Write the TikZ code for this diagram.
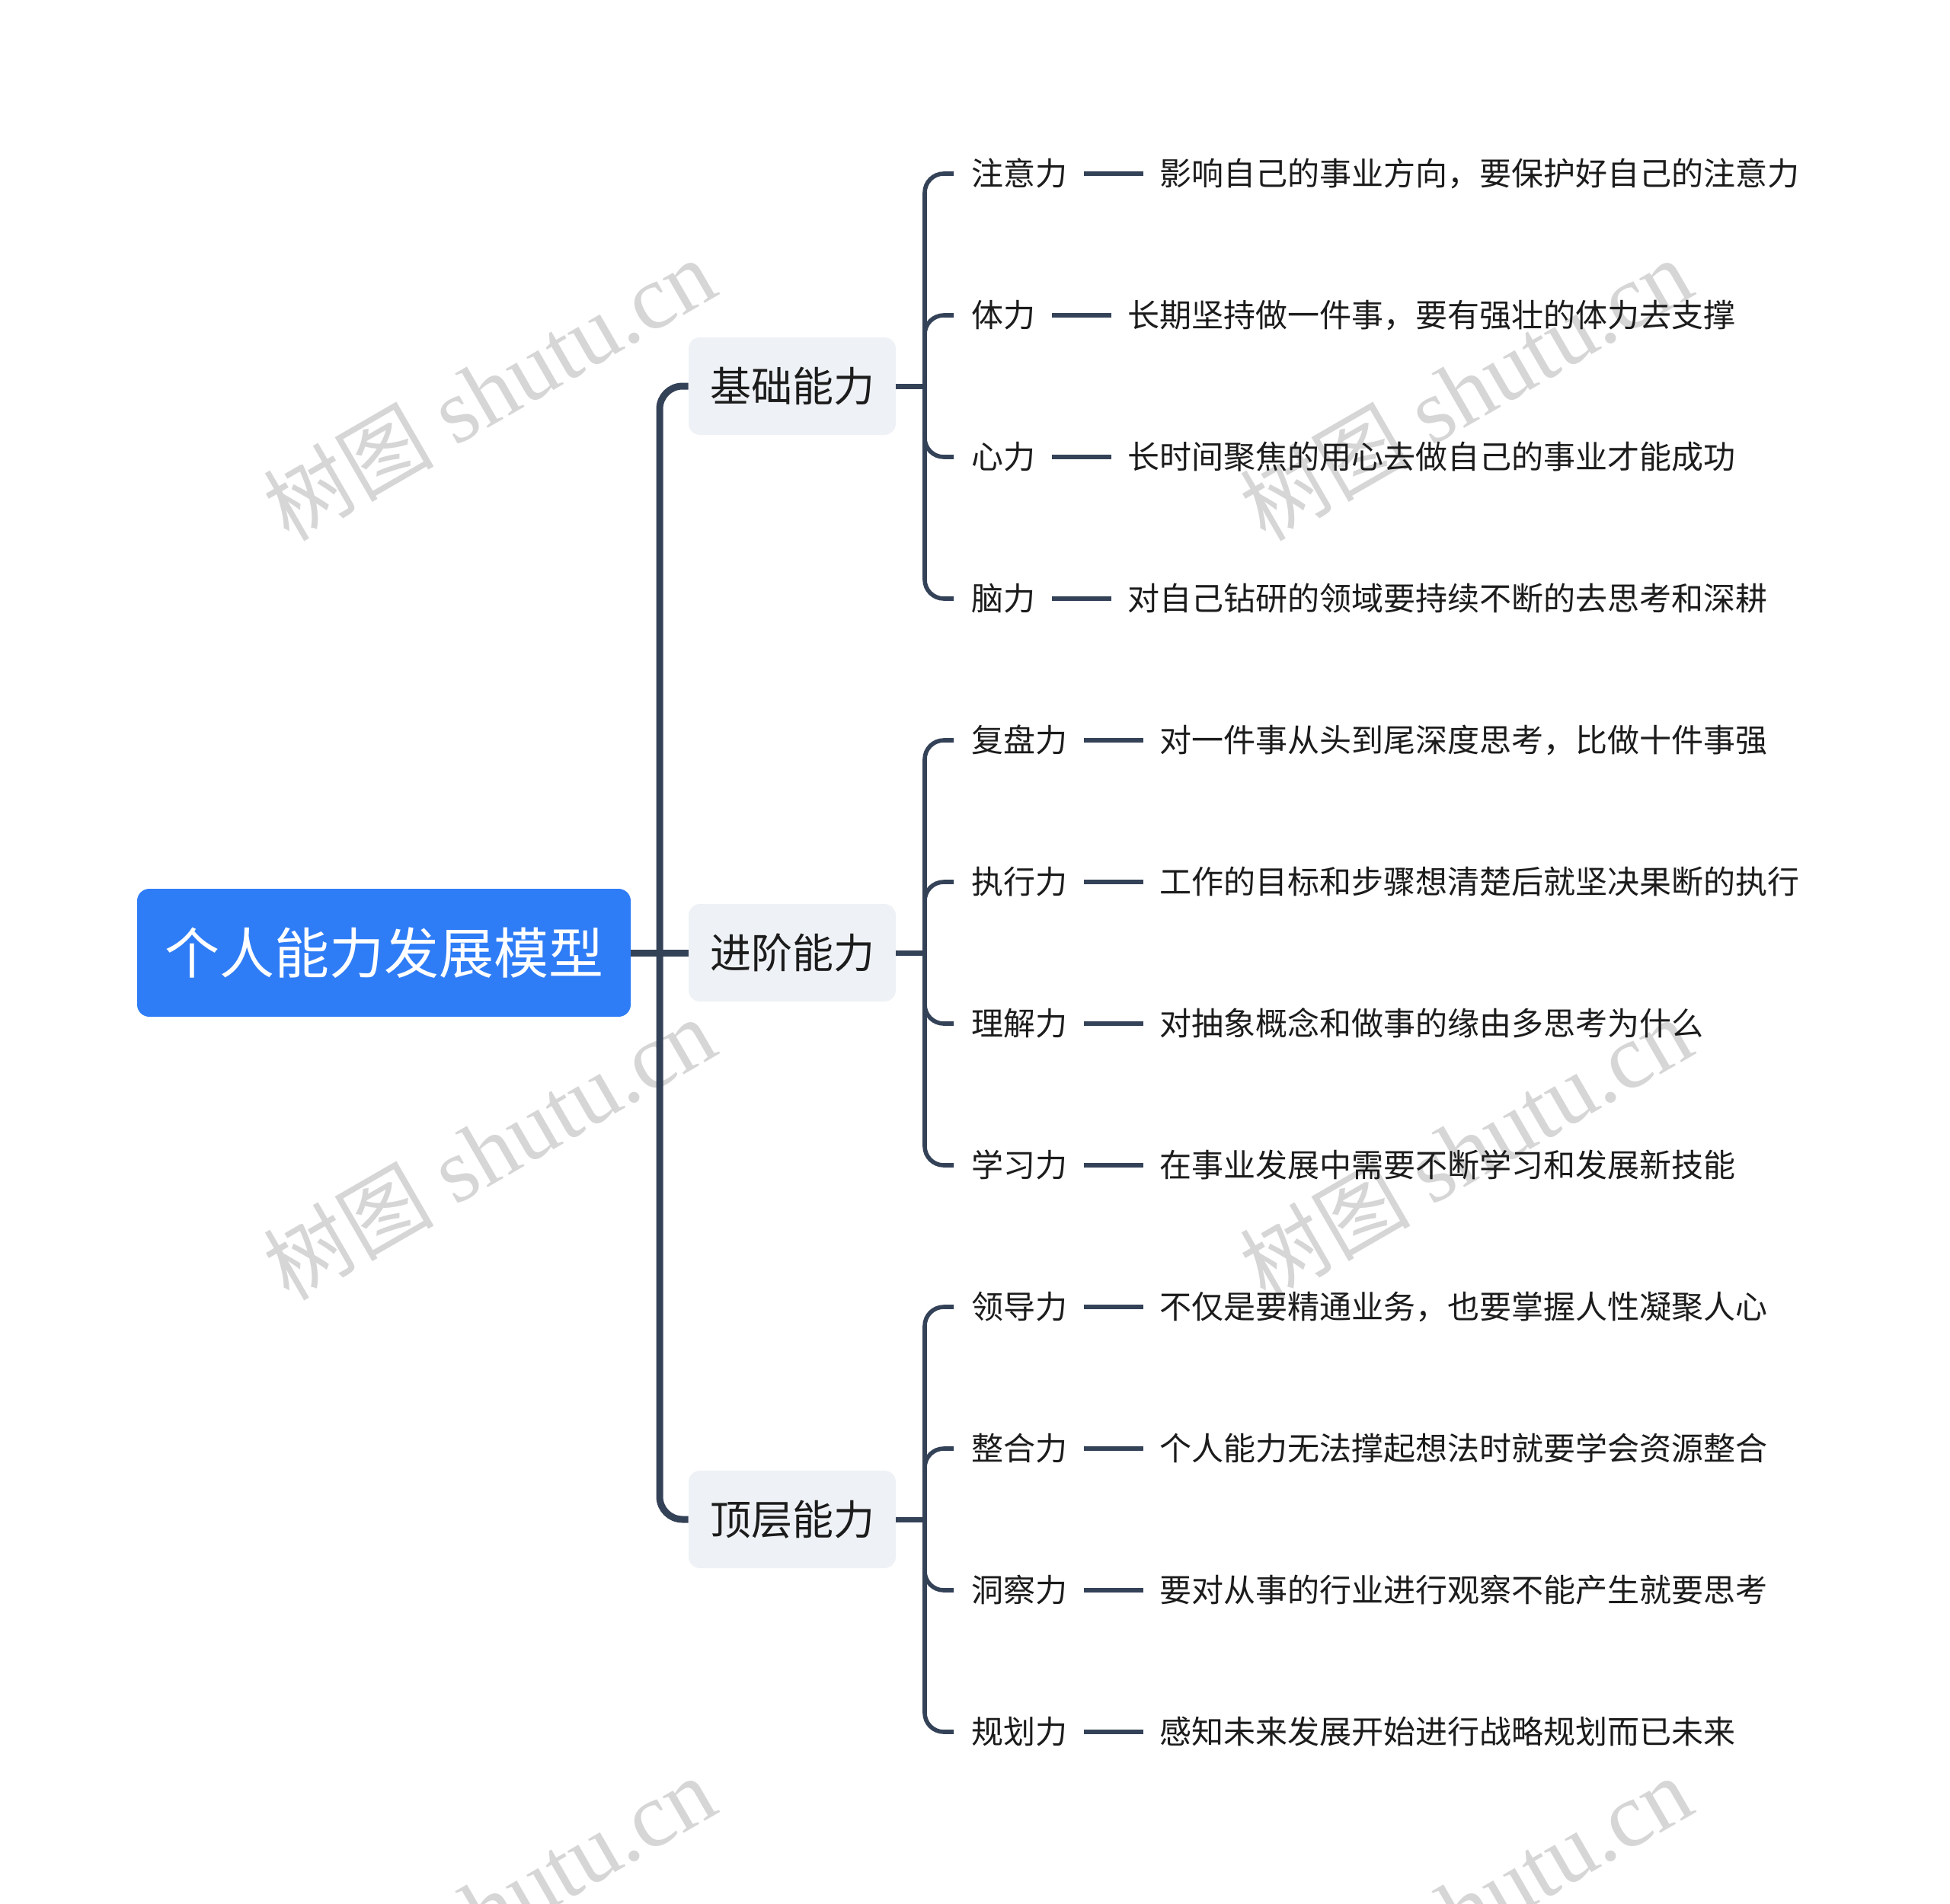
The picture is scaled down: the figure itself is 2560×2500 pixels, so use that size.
\documentclass[tikz,border=0pt]{standalone}
\usepackage{fontspec}
\setmainfont{Noto Sans CJK SC}
\newfontfamily\wmlatin{Liberation Serif}
\usetikzlibrary{calc}
\definecolor{lineC}{RGB}{52,66,88}
\definecolor{rootC}{RGB}{47,125,246}
\definecolor{branchC}{RGB}{238,241,245}
\definecolor{wmC}{RGB}{214,214,214}
\definecolor{txtC}{RGB}{28,28,28}
\tikzset{
  rootbox/.style={draw=none, fill=rootC, rounded corners=8pt, text=white,
    minimum width=324pt, minimum height=84pt, inner sep=0pt,
    font=\fontsize{36pt}{40pt}\selectfont},
  branchbox/.style={draw=none, fill=branchC, rounded corners=7.5pt, text=txtC,
    minimum width=136pt, minimum height=64pt, inner sep=0pt,
    font=\fontsize{27pt}{30pt}\selectfont},
  lbl/.style={anchor=west, inner sep=0pt, text=txtC, text height=17.4pt, text depth=1.5pt,
    font=\fontsize{21pt}{24pt}\selectfont},
  dsc/.style={lbl},
  trunk/.style={draw=lineC, line width=4.5pt, rounded corners=15pt},
  brk/.style={draw=lineC, line width=2.8pt, rounded corners=12.5pt},
  brkin/.style={draw=lineC, line width=3.5pt},
  dsh/.style={draw=lineC, line width=2.6pt},
  wm/.style={text=wmC, inner sep=0pt, rotate=30, font=\fontsize{56pt}{58pt}\selectfont}
}
\newcommand{\leafitem}[5]{%
  \node[lbl] (l#1) at (1275,#3) {#4};
  \node[dsc] (d#1) at ([xshift=60pt]l#1.east) {#5};
  \draw[brk] (#2) |- ([xshift=-11.5pt]l#1.west);
  \draw[dsh] ([xshift=10.5pt]l#1.east) -- ([xshift=-10.5pt]d#1.west);
}
\newcommand{\wmark}[3]{%
  \node[wm] (#1) at (#2,#3) {树图\hspace{0.25em}{\wmlatin\fontsize{60pt}{62pt}\selectfont shutu.cn}};
}
\begin{document}
\begin{tikzpicture}[x=0.5pt,y=-0.5pt]
\useasboundingbox (0,0) rectangle (2560,2500);
\fill[white] (0,0) rectangle (2560,2500);
\begin{scope}
  \clip (0,0) rectangle (2560,2500);
  \wmark{w1}{642}{512}
  \wmark{w2}{642}{1509}
  \wmark{w3}{642}{2505}
  \wmark{w4}{1924}{512}
  \wmark{w5}{1924}{1509}
  \wmark{w6}{1924}{2505}
\end{scope}

\node[rootbox] (root) at (504,1251) {个人能力发展模型};
\node[branchbox] (b1) at (1040,507) {基础能力};
\node[branchbox] (b2) at (1040,1251) {进阶能力};
\node[branchbox] (b3) at (1040,1995) {顶层能力};

\coordinate (t) at (866,1251);
\draw[trunk] (b1.west) -| (t) |- (b3.west);
\draw[draw=lineC, line width=4.5pt] (root.east) -- (b2.west);

\coordinate (j1) at (1214,507);
\coordinate (j2) at (1214,1251);
\coordinate (j3) at (1214,1995);
\draw[brkin] (b1.east) -- (j1);
\draw[brkin] (b2.east) -- (j2);
\draw[brkin] (b3.east) -- (j3);

\leafitem{1}{j1}{228}{注意力}{影响自己的事业方向，要保护好自己的注意力}
\leafitem{2}{j1}{414}{体力}{长期坚持做一件事，要有强壮的体力去支撑}
\leafitem{3}{j1}{600}{心力}{长时间聚焦的用心去做自己的事业才能成功}
\leafitem{4}{j1}{786}{脑力}{对自己钻研的领域要持续不断的去思考和深耕}
\leafitem{5}{j2}{972}{复盘力}{对一件事从头到尾深度思考，比做十件事强}
\leafitem{6}{j2}{1158}{执行力}{工作的目标和步骤想清楚后就坚决果断的执行}
\leafitem{7}{j2}{1344}{理解力}{对抽象概念和做事的缘由多思考为什么}
\leafitem{8}{j2}{1530}{学习力}{在事业发展中需要不断学习和发展新技能}
\leafitem{9}{j3}{1716}{领导力}{不仅是要精通业务，也要掌握人性凝聚人心}
\leafitem{10}{j3}{1902}{整合力}{个人能力无法撑起想法时就要学会资源整合}
\leafitem{11}{j3}{2088}{洞察力}{要对从事的行业进行观察不能产生就要思考}
\leafitem{12}{j3}{2274}{规划力}{感知未来发展开始进行战略规划而已未来}
\end{tikzpicture}
\end{document}
